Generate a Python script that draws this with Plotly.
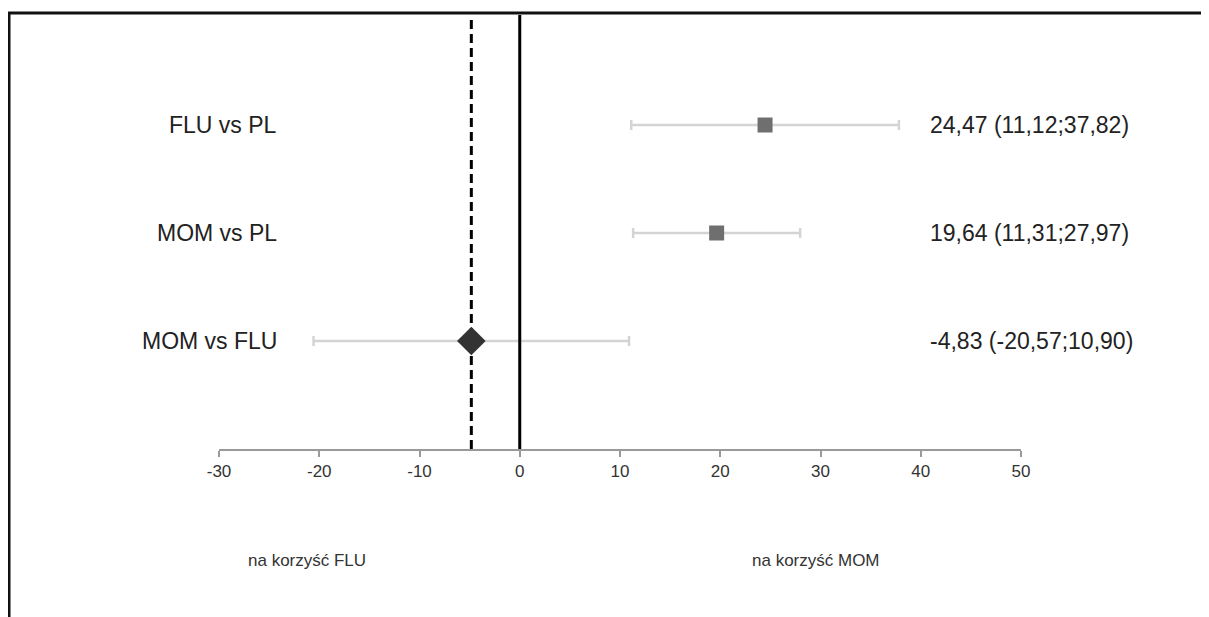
import plotly.graph_objects as go

# ---- data ----
labels = ["FLU vs PL", "MOM vs PL", "MOM vs FLU"]
estimates = [24.47, 19.64, -4.83]
ci_low = [11.12, 11.31, -20.57]
ci_high = [37.82, 27.97, 10.90]
is_summary = [False, False, True]
tick_values = [-30, -20, -10, 0, 10, 20, 30, 40, 50]
null_value = 0
summary_value = -4.83
favour_labels = ["na korzyść FLU", "na korzyść MOM"]

# page has an 8px body margin; figure is sized so that it ends at the window edge
OFF = 8
W, H = 1209 - OFF, 617 - OFF
ML, MR, MT, MB = 219 - OFF, 188, 15 - OFF, 168
FONT = "Liberation Sans, Arial, sans-serif"

rows = list(range(len(labels)))
fig = go.Figure()

box_idx = [i for i in rows if not is_summary[i]]
sum_idx = [i for i in rows if is_summary[i]]


def add_rows(idx, symbol, size, color):
    fig.add_trace(go.Scatter(
        x=[estimates[i] for i in idx],
        y=[rows[i] for i in idx],
        mode="markers",
        marker=dict(symbol=symbol, size=size, color=color, line=dict(width=0)),
        error_x=dict(
            type="data", symmetric=False,
            array=[ci_high[i] - estimates[i] for i in idx],
            arrayminus=[estimates[i] - ci_low[i] for i in idx],
            color="#d4d4d4", thickness=2.5, width=5,
        ),
        cliponaxis=False, showlegend=False, hoverinfo="skip",
    ))


add_rows(box_idx, "square", 15, "#6f6f6f")
add_rows(sum_idx, "diamond", 22, "#333333")

# reference lines
fig.add_shape(type="line", xref="x", yref="paper", x0=null_value, x1=null_value,
              y0=0, y1=1, line=dict(color="black", width=3), layer="above")
fig.add_shape(type="line", xref="x", yref="paper", x0=summary_value, x1=summary_value,
              y0=0, y1=1, line=dict(color="black", width=3, dash="9px,5px"), layer="below")

pw, ph = W - ML - MR, H - MT - MB


def px_x(p):
    return (p - OFF - ML) / pw


def px_y(p):
    return (H - MB - (p - OFF)) / ph


# frame (top and left borders)
fig.add_shape(type="line", xref="paper", yref="paper", x0=px_x(8), x1=px_x(1212),
              y0=px_y(13), y1=px_y(13), line=dict(color="#111111", width=3))
fig.add_shape(type="line", xref="paper", yref="paper", x0=px_x(9), x1=px_x(9),
              y0=px_y(12), y1=px_y(620), line=dict(color="#111111", width=3))

# row labels and estimate text
for i in rows:
    fig.add_annotation(x=px_x(279), xref="paper", y=rows[i], yref="y", text=labels[i],
                       showarrow=False, xanchor="right", yanchor="middle",
                       font=dict(family=FONT, size=23, color="#222222"))
    txt = f"{estimates[i]:.2f} ({ci_low[i]:.2f};{ci_high[i]:.2f})".replace(".", ",")
    fig.add_annotation(x=px_x(928), xref="paper", y=rows[i], yref="y", text=txt,
                       showarrow=False, xanchor="left", yanchor="middle",
                       font=dict(family=FONT, size=23, color="#222222"))

for lab, cx in zip(favour_labels, [307, 816]):
    fig.add_annotation(x=px_x(cx), xref="paper", y=px_y(560), yref="paper", text=lab,
                       showarrow=False, xanchor="center", yanchor="middle",
                       font=dict(family=FONT, size=17, color="#333333"))

fig.update_layout(
    width=W, height=H,
    margin=dict(l=ML, r=MR, t=MT, b=MB, pad=0),
    paper_bgcolor="white", plot_bgcolor="white",
    xaxis=dict(range=[-30, 50], tickvals=tick_values, ticktext=[str(v) for v in tick_values],
               showgrid=False, zeroline=False, showline=True, linecolor="#9a9a9a", linewidth=2,
               ticks="outside", ticklen=6, tickwidth=1.5, tickcolor="#9a9a9a",
               tickfont=dict(family=FONT, size=17, color="#333333")),
    yaxis=dict(range=[3, -1.0185], visible=False, showgrid=False, zeroline=False),
)

fig.write_html("out.html")
